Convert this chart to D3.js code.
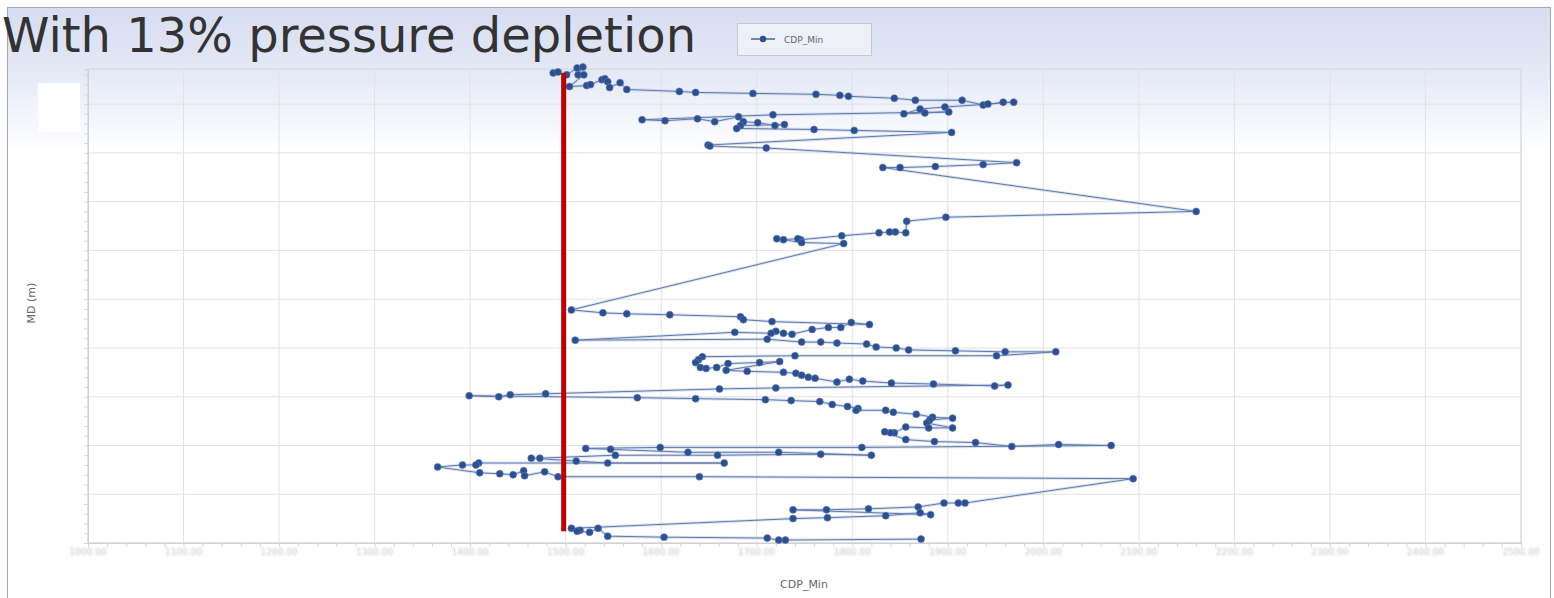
<!DOCTYPE html>
<html>
<head>
<meta charset="utf-8">
<script src="https://cdn.jsdelivr.net/npm/d3@7"></script>
<style>
  html, body { margin: 0; padding: 0; background: #fff; }
  svg { display: block; }
</style>
</head>
<body>
<div id="chart"></div>
<script>
// series: CDP_Min against measured depth, in the order the points are joined
var cdpMin = [1487,1492,1501,1512,1518,1513,1519,1504,1522,1526,1538,1541,1544,1546,1557,1564,1619,1636,1696,1762,
  1787,1796,1844,1866,1915,1937,1958,1969,1942,1897,1871,1854,1876,1901,1717,1580,1604,1638,1656,1681,
  1686,1701,1719,1729,1683,1679,1760,1802,1904,1649,1651,1710,1972,1937,1887,1850,1832,2160,1898,1857,
  1856,1845,1839,1828,1789,1746,1743,1728,1721,1747,1791,1506,1539,1564,1609,1683,1686,1716,1818,1799,
  1788,1775,1758,1737,1728,1720,1715,1677,1510,1711,1747,1767,1784,1815,1825,1846,1859,1908,1960,2013,
  1951,1740,1643,1639,1636,1641,1647,1658,1670,1703,1724,1668,1690,1728,1741,1747,1754,1761,1784,1797,
  1811,1841,1885,1949,1963,1720,1661,1479,1442,1430,1399,1575,1636,1709,1736,1766,1779,1795,1806,1804,
  1835,1843,1867,1884,1905,1881,1878,1905,1880,1856,1844,1840,1834,1856,1886,1929,1967,2016,2071,1810,
  1599,1521,1547,1628,1723,1820,1767,1659,1552,1473,1464,1511,1544,1666,1409,1406,1392,1366,1410,1431,
  1445,1456,1457,1478,1492,1640,2094,1918,1911,1896,1869,1817,1773,1738,1882,1871,1835,1774,1738,1506,
  1515,1512,1525,1534,1544,1603,1711,1723,1730,1872];

var md = [2518,2517,2520,2513,2512,2520,2520,2532,2531,2530,2525,2524,2527,2533,2528,2535,2537,2538,2539,2540,
  2541,2542,2544,2546,2546,2551,2548,2548,2550,2553,2555,2560,2559,2558,2561,2566,2567,2565,2568,2563,
  2568,2569,2572,2571,2572,2575,2576,2577,2579,2592,2593,2595,2610,2612,2614,2615,2615,2660,2666,2670,
  2682,2681,2681,2682,2685,2689,2688,2689,2688,2692,2693,2761,2764,2765,2766,2768,2771,2773,2776,2774,
  2779,2779,2781,2786,2785,2783,2785,2784,2792,2791,2794,2794,2795,2796,2799,2800,2802,2803,2804,2804,
  2808,2808,2809,2812,2815,2820,2821,2820,2816,2815,2814,2823,2824,2825,2826,2828,2830,2831,2835,2832,
  2834,2836,2837,2839,2838,2841,2842,2847,2848,2850,2849,2851,2852,2853,2854,2855,2858,2860,2862,2864,
  2864,2866,2868,2871,2872,2874,2877,2882,2882,2881,2887,2887,2886,2894,2896,2897,2901,2899,2900,2902,
  2902,2903,2904,2907,2907,2910,2909,2910,2910,2913,2913,2916,2918,2918,2918,2920,2920,2922,2928,2929,
  2930,2926,2931,2927,2932,2932,2934,2959,2959,2959,2963,2965,2966,2966,2971,2969,2972,2974,2975,2985,
  2987,2988,2989,2985,2993,2994,2995,2997,2997,2996];

var xTicks = d3.range(1000, 2501, 100);
var yTicks = d3.range(2550, 3001, 50);
var cutoffCdp = 1500;
var cutoffMd = [2518, 2988];

var W = 1554, H = 598;
var margin = { top: 69, right: 33, bottom: 55, left: 88 };

var svg = d3.select("#chart").append("svg")
  .attr("width", W).attr("height", H);

var defs = svg.append("defs");
var bg = defs.append("linearGradient").attr("id", "bg")
  .attr("x1", 0).attr("y1", 0).attr("x2", 0).attr("y2", 1);
bg.append("stop").attr("offset", "0").attr("stop-color", "#d7ddf1");
bg.append("stop").attr("offset", "0.1").attr("stop-color", "#e3e8f6");
bg.append("stop").attr("offset", "0.18").attr("stop-color", "#f3f5fc");
bg.append("stop").attr("offset", "0.24").attr("stop-color", "#ffffff");
defs.append("filter").attr("id", "soft")
  .append("feGaussianBlur").attr("stdDeviation", 0.8);

// outer frame
svg.append("rect")
  .attr("x", 7.5).attr("y", 7.5)
  .attr("width", 1543).attr("height", 600)
  .attr("fill", "url(#bg)")
  .attr("stroke", "#a3a8b6");

var x = d3.scaleLinear().domain([1000, 2500]).range([margin.left, W - margin.right]);
var y = d3.scaleLinear().domain([2514, 3000]).range([margin.top, H - margin.bottom]);

var g = svg.append("g");

// grid
g.append("g").selectAll("line").data(xTicks).enter().append("line")
  .attr("x1", function (d) { return x(d); }).attr("x2", function (d) { return x(d); })
  .attr("y1", y.range()[0]).attr("y2", y.range()[1])
  .attr("stroke", "#e2e2e4");
g.append("g").selectAll("line").data(yTicks).enter().append("line")
  .attr("x1", x.range()[0]).attr("x2", x.range()[1])
  .attr("y1", function (d) { return y(d); }).attr("y2", function (d) { return y(d); })
  .attr("stroke", "#e2e2e4");

g.append("rect")
  .attr("x", x.range()[0]).attr("y", y.range()[0])
  .attr("width", x.range()[1] - x.range()[0])
  .attr("height", y.range()[1] - y.range()[0])
  .attr("fill", "none").attr("stroke", "#d6d6da");

// axes, faint like the original
var xAxis = g.append("g")
  .attr("transform", "translate(0," + y.range()[1] + ")")
  .call(d3.axisBottom(x).tickValues(d3.range(1000, 2501, 20)).tickSize(4).tickFormat(""));
xAxis.select(".domain").attr("stroke", "#d0d0d4");
xAxis.selectAll(".tick line").attr("stroke", "#d8d8dc");

g.append("g").attr("filter", "url(#soft)")
  .selectAll("text").data(xTicks).enter().append("text")
  .attr("x", function (d) { return x(d); })
  .attr("y", y.range()[1] + 12)
  .attr("text-anchor", "middle")
  .style("font-family", "DejaVu Sans, sans-serif")
  .style("font-size", "9px")
  .attr("fill", "#c4c4c8")
  .text(d3.format(".2f"));

var yAxis = g.append("g")
  .attr("transform", "translate(" + x.range()[0] + ",0)")
  .call(d3.axisLeft(y).tickValues(d3.range(2520, 3001, 10)).tickSize(4).tickFormat(""));
yAxis.select(".domain").attr("stroke", "#d0d0d4");
yAxis.selectAll(".tick line").attr("stroke", "#d8d8dc");

// blanked label box
svg.append("rect").attr("x", 38).attr("y", 83).attr("width", 42).attr("height", 49).attr("fill", "#fff");

// series
var pts = d3.zip(cdpMin, md);
var line = d3.line()
  .x(function (d) { return x(d[0]); })
  .y(function (d) { return y(d[1]); });

g.append("path").datum(pts)
  .attr("d", line).attr("fill", "none")
  .attr("stroke", "#b7cbee").attr("stroke-width", 3).attr("opacity", 0.55);
g.append("path").datum(pts)
  .attr("d", line).attr("fill", "none")
  .attr("stroke", "#6479a3").attr("stroke-width", 1);

g.append("g").selectAll("circle").data(pts).enter().append("circle")
  .attr("cx", function (d) { return x(d[0]); })
  .attr("cy", function (d) { return y(d[1]); })
  .attr("r", 3.5)
  .attr("fill", "#2b4f8f")
  .attr("stroke", "#5a7cbc").attr("stroke-width", 0.6);

// cutoff marker
g.append("line")
  .attr("x1", x(cutoffCdp) - 2).attr("x2", x(cutoffCdp) - 2)
  .attr("y1", y(cutoffMd[0])).attr("y2", y(cutoffMd[1]))
  .attr("stroke", "#c00000").attr("stroke-width", 5);

// axis titles
svg.append("text")
  .attr("x", 804).attr("y", 588)
  .attr("text-anchor", "middle")
  .style("font-family", "DejaVu Sans, sans-serif")
  .style("font-size", "11px")
  .attr("fill", "#666")
  .text("CDP_Min");
svg.append("text")
  .attr("transform", "translate(35,303) rotate(-90)")
  .attr("text-anchor", "middle")
  .style("font-family", "DejaVu Sans, sans-serif")
  .style("font-size", "11px")
  .attr("fill", "#666")
  .text("MD (m)");

// legend
var lg = svg.append("g").attr("transform", "translate(737,23)");
lg.append("rect").attr("x", 0.5).attr("y", 0.5).attr("width", 134).attr("height", 32)
  .attr("fill", "#eef0f8").attr("stroke", "#c5c8d2");
lg.append("line").attr("x1", 14).attr("x2", 38).attr("y1", 16).attr("y2", 16)
  .attr("stroke", "#4d6491").attr("stroke-width", 1.5);
lg.append("circle").attr("cx", 26).attr("cy", 16).attr("r", 3.2).attr("fill", "#2c5193");
lg.append("text").attr("x", 47).attr("y", 20)
  .style("font-family", "DejaVu Sans, sans-serif")
  .style("font-size", "9px").attr("fill", "#666")
  .text("CDP_Min");

// title
svg.append("text")
  .attr("x", 2).attr("y", 52)
  .style("font-family", "DejaVu Sans, sans-serif")
  .style("font-size", "48px")
  .attr("fill", "#333")
  .text("With 13% pressure depletion");
</script>
</body>
</html>
